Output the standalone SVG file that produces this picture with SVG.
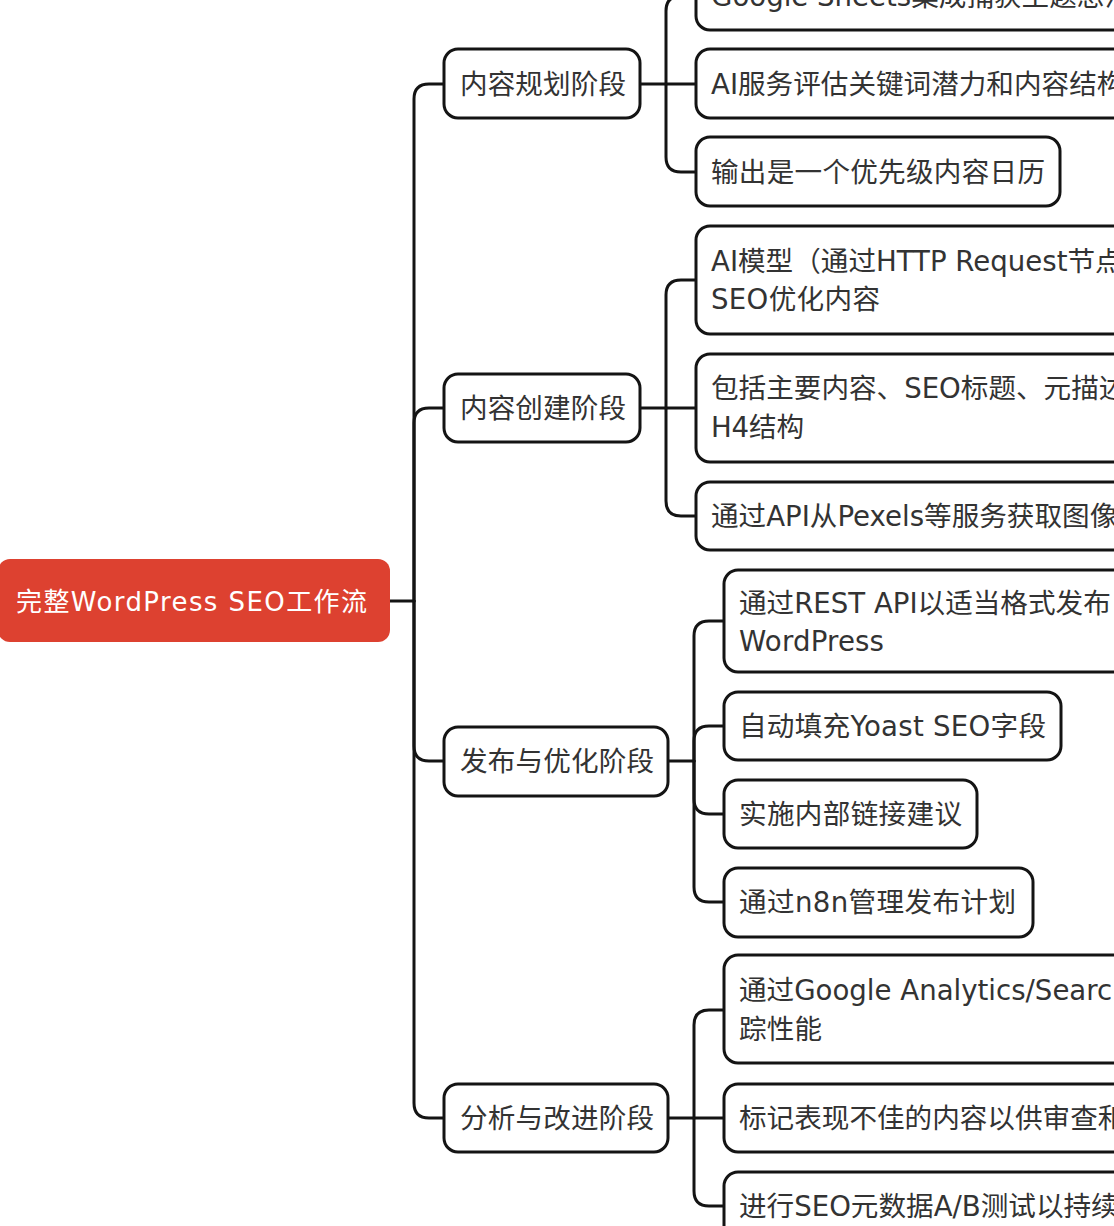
<svg xmlns="http://www.w3.org/2000/svg" width="1114" height="1226" viewBox="0 0 1114 1226">
<style>
.box{fill:#ffffff;stroke:#141414;stroke-width:3}
.root{fill:#dd4130}
.t{font-family:"DejaVu Sans","Noto Sans CJK SC",sans-serif;font-size:27.6px;fill:#333333}
.rt{font-family:"DejaVu Sans","Noto Sans CJK SC",sans-serif;font-size:26px;fill:#ffffff}
.conn{fill:none;stroke:#141414;stroke-width:3;stroke-linecap:round}
</style>
<rect width="1114" height="1226" fill="#ffffff"/>
<g id="connectors">
<path class="conn" d="M390,601 H414"/>
<path class="conn" d="M414,601 V99 Q414,84 429,84 H444"/>
<path class="conn" d="M414,601 V423 Q414,408 429,408 H444"/>
<path class="conn" d="M414,601 V746 Q414,761 429,761 H444"/>
<path class="conn" d="M414,601 V1103 Q414,1118 429,1118 H444"/>
<path class="conn" d="M640,84 H666"/>
<path class="conn" d="M666,84 V11 Q666,-4 681,-4 H696"/>
<path class="conn" d="M666,84 H696"/>
<path class="conn" d="M666,84 V157 Q666,172 681,172 H696"/>
<path class="conn" d="M640,408 H666"/>
<path class="conn" d="M666,408 V295 Q666,280 681,280 H696"/>
<path class="conn" d="M666,408 H696"/>
<path class="conn" d="M666,408 V501 Q666,516 681,516 H696"/>
<path class="conn" d="M668,761 H694"/>
<path class="conn" d="M694,761 V636 Q694,621 709,621 H724"/>
<path class="conn" d="M694,761 V741 Q694,726 709,726 H724"/>
<path class="conn" d="M694,761 V799 Q694,814 709,814 H724"/>
<path class="conn" d="M694,761 V887 Q694,902 709,902 H724"/>
<path class="conn" d="M668,1118 H694"/>
<path class="conn" d="M694,1118 V1025 Q694,1010 709,1010 H724"/>
<path class="conn" d="M694,1118 H724"/>
<path class="conn" d="M694,1118 V1191 Q694,1206 709,1206 H724"/>
</g>
<g id="root">
<rect class="root" x="-2" y="559" width="392" height="83" rx="12"/>
<text class="rt" x="16" y="611" textLength="351">完整WordPress SEO工作流</text>
</g>
<g id="n1">
<rect class="box" x="444" y="49" width="196" height="69" rx="14"/>
<text class="t" x="460" y="94" textLength="166">内容规划阶段</text>
</g>
<g id="n2">
<rect class="box" x="444" y="374" width="196" height="68" rx="14"/>
<text class="t" x="460" y="418" textLength="166">内容创建阶段</text>
</g>
<g id="n3">
<rect class="box" x="444" y="727" width="224" height="69" rx="14"/>
<text class="t" x="460" y="771" textLength="194">发布与优化阶段</text>
</g>
<g id="n4">
<rect class="box" x="444" y="1084" width="224" height="68" rx="14"/>
<text class="t" x="460" y="1128" textLength="194">分析与改进阶段</text>
</g>
<g id="c11">
<rect class="box" x="696" y="-39" width="460" height="69" rx="14"/>
<text class="t" x="711" y="6">Google Sheets集成捕获主题想法</text>
</g>
<g id="c12">
<rect class="box" x="696" y="49" width="460" height="69" rx="14"/>
<text class="t" x="711" y="94">AI服务评估关键词潜力和内容结构</text>
</g>
<g id="c13">
<rect class="box" x="696" y="137" width="364" height="69" rx="14"/>
<text class="t" x="711" y="182" textLength="334">输出是一个优先级内容日历</text>
</g>
<g id="c21">
<rect class="box" x="696" y="226" width="460" height="108" rx="14"/>
<text class="t" x="711" y="271">AI模型（通过HTTP Request节点</text>
<text class="t" x="711" y="309" textLength="169">SEO优化内容</text>
</g>
<g id="c22">
<rect class="box" x="696" y="354" width="460" height="108" rx="14"/>
<text class="t" x="711" y="398">包括主要内容、SEO标题、元描述</text>
<text class="t" x="711" y="437" textLength="93">H4结构</text>
</g>
<g id="c23">
<rect class="box" x="696" y="482" width="460" height="68" rx="14"/>
<text class="t" x="711" y="526">通过API从Pexels等服务获取图像</text>
</g>
<g id="c31">
<rect class="box" x="724" y="570" width="440" height="102" rx="14"/>
<text class="t" x="739" y="613">通过REST API以适当格式发布</text>
<text class="t" x="739" y="651" textLength="145">WordPress</text>
</g>
<g id="c32">
<rect class="box" x="724" y="692" width="337" height="68" rx="14"/>
<text class="t" x="739" y="736" textLength="307">自动填充Yoast SEO字段</text>
</g>
<g id="c33">
<rect class="box" x="724" y="780" width="253" height="68" rx="14"/>
<text class="t" x="739" y="824" textLength="223">实施内部链接建议</text>
</g>
<g id="c34">
<rect class="box" x="724" y="868" width="309" height="69" rx="14"/>
<text class="t" x="739" y="912" textLength="277">通过n8n管理发布计划</text>
</g>
<g id="c41">
<rect class="box" x="724" y="955" width="440" height="108" rx="14"/>
<text class="t" x="739" y="1000">通过Google Analytics/Search</text>
<text class="t" x="739" y="1039" textLength="83">踪性能</text>
</g>
<g id="c42">
<rect class="box" x="724" y="1084" width="440" height="68" rx="14"/>
<text class="t" x="739" y="1128">标记表现不佳的内容以供审查和</text>
</g>
<g id="c43">
<rect class="box" x="724" y="1172" width="440" height="68" rx="14"/>
<text class="t" x="739" y="1216">进行SEO元数据A/B测试以持续</text>
</g>
</svg>
